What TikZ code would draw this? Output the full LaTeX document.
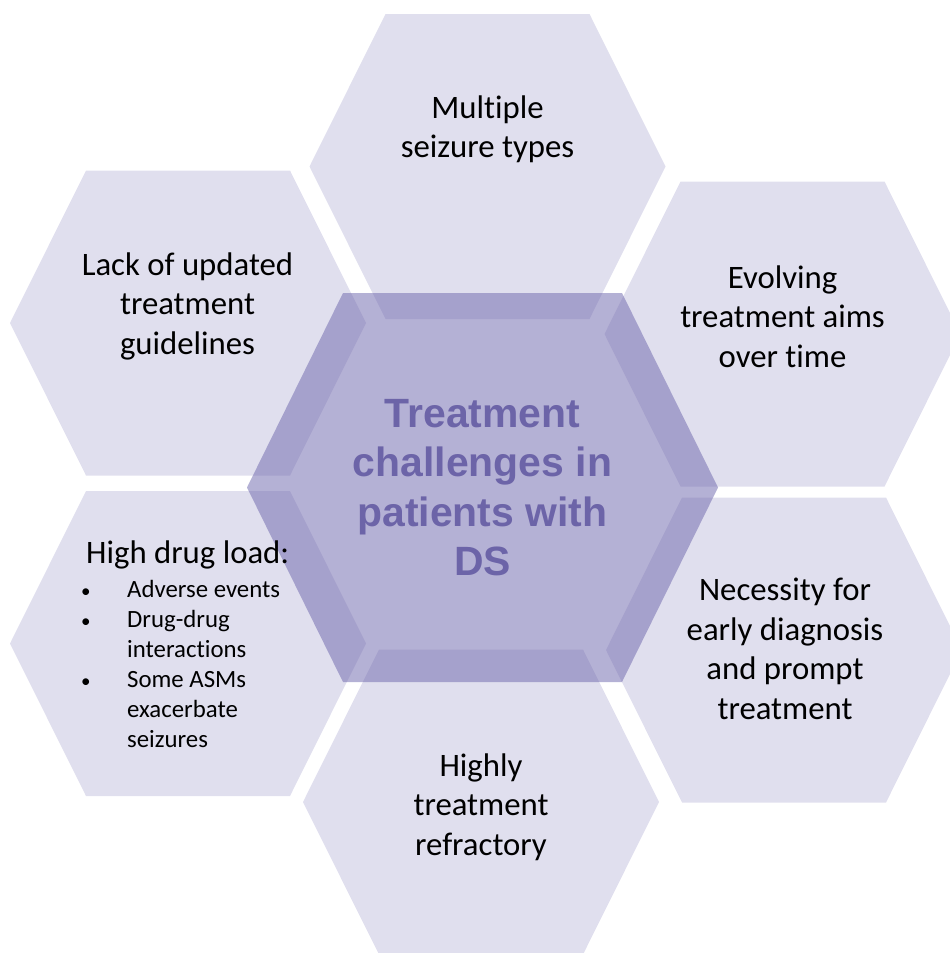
\documentclass[tikz,border=0pt]{standalone}
\usepackage{fontspec}
\setmainfont{Carlito}[Ligatures=NoCommon]
\newfontfamily\headfont{Liberation Sans}
\usepackage{xcolor}
\usepackage{tikz}
\usetikzlibrary{positioning}

\definecolor{cellfill}{HTML}{E0DFEE}
\definecolor{corefill}{HTML}{7069AE}
\definecolor{coretext}{HTML}{6C64A8}

\begin{document}
\begin{tikzpicture}[x=1pt,y=-1pt,
	cell/.style={fill=cellfill},
	core/.style={fill=corefill,fill opacity=0.52},
	label/.style={inner sep=0pt,anchor=base,align=center,font=\fontsize{32.75}{39.5}\selectfont},
	items/.style={inner sep=0pt,anchor=base west,font=\fontsize{24.8}{30}\selectfont},
	title/.style={inner sep=0pt,anchor=base,align=center,text=coretext,font=\headfont\bfseries\fontsize{40.9}{49.5}\selectfont}]
	
	\useasboundingbox (0,0) rectangle (950,953);
	
	% centres of the cells
	\coordinate (top) at (487.5,166.5);
	\coordinate (upleft) at (188,323);
	\coordinate (upright) at (782.5,334);
	\coordinate (lowleft) at (188,643.5);
	\coordinate (lowright) at (784,650);
	\coordinate (bottom) at (481,802);
	\coordinate (centre) at (482.5,487.5);
	
	% outer cells
	\fill[cell,shift={(top)}] (-178,0) -- (-102,-152.5) -- (102,-152.5) -- (178,0) -- (102,152.5) -- (-102,152.5) -- cycle;
	\fill[cell,shift={(upleft)}] (-178,0) -- (-102,-152.5) -- (102,-152.5) -- (178,0) -- (102,152.5) -- (-102,152.5) -- cycle;
	\fill[cell,shift={(upright)}] (-178,0) -- (-102,-152.5) -- (102,-152.5) -- (178,0) -- (102,152.5) -- (-102,152.5) -- cycle;
	\fill[cell,shift={(lowleft)}] (-178,0) -- (-102,-152.5) -- (102,-152.5) -- (178,0) -- (102,152.5) -- (-102,152.5) -- cycle;
	\fill[cell,shift={(lowright)}] (-178,0) -- (-102,-152.5) -- (102,-152.5) -- (178,0) -- (102,152.5) -- (-102,152.5) -- cycle;
	\fill[cell,shift={(bottom)}] (-178,0) -- (-102,-152.5) -- (102,-152.5) -- (178,0) -- (102,152.5) -- (-102,152.5) -- cycle;
	
	% centre cell, see-through
	\fill[core,shift={(centre)}] (-235.5,0) -- (-139.5,-194.5) -- (139.5,-194.5) -- (235.5,0) -- (139.5,194.5) -- (-139.5,194.5) -- cycle;
	
	% texts (placed at the baseline of their last line)
	\node[label] (seizures) at (487.5,157.5) {Multiple\\seizure types};
	\node[label] (guidelines) at (187.5,354) {Lack of updated\\treatment\\guidelines};
	\node[label] (aims) at (782.5,367) {Evolving\\treatment aims\\over time};
	\node[label] (diagnosis) at (785,719) {Necessity for\\early diagnosis\\and prompt\\treatment};
	\node[label] (refractory) at (481,855) {Highly\\treatment\\refractory};
	\node[label,anchor=base west] (load) at (86,563) {High drug load:};
	\node[items] (loaditems) at (81,597) {\begin{tabular}[t]{@{}p{46pt}@{}l@{}}
		{\fontsize{19}{30}\selectfont\textbullet} & Adverse events\\
		{\fontsize{19}{30}\selectfont\textbullet} & Drug-drug\\
		& interactions\\
		{\fontsize{19}{30}\selectfont\textbullet} & Some ASMs\\
		& exacerbate\\
		& seizures
	\end{tabular}};
	\node[title] (challenges) at (482.5,575.5) {Treatment\\challenges in\\patients with\\DS};
	
\end{tikzpicture}
\end{document}
